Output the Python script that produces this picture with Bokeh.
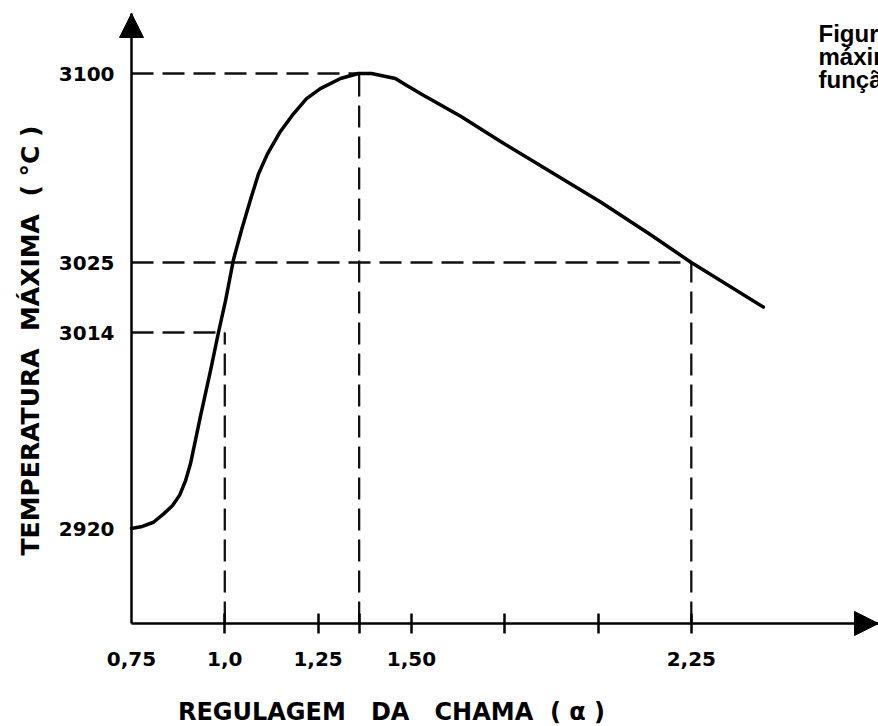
import numpy as np
from bokeh.plotting import figure
from bokeh.models import Range1d, FixedTicker, Arrow, NormalHead
from bokeh.embed import file_html
from bokeh.resources import INLINE
from bokeh.core.properties import value

# ---------------- data ----------------
alpha = [0.75, 0.779, 0.809, 0.836, 0.860, 0.879, 0.895, 0.908, 0.921, 0.935,
         0.962, 0.983, 1.002, 1.023, 1.045, 1.069, 1.090, 1.114, 1.149, 1.184,
         1.219, 1.256, 1.310, 1.358, 1.393, 1.425, 1.457, 1.490, 1.525, 1.632,
         1.739, 1.873, 2.007, 2.141, 2.25, 2.443]
temp = [2920, 2921, 2923, 2927, 2931, 2936, 2943, 2951, 2962, 2974,
        2996, 3014, 3019, 3026, 3038, 3050, 3060, 3068, 3077, 3084,
        3090, 3094, 3098, 3100, 3100, 3099, 3098, 3095, 3092, 3083,
        3073, 3061, 3049, 3036, 3025, 3018]

x_tick_values = [0.75, 1.0, 1.25, 1.5, 2.25]
x_tick_labels = ["0,75", "1,0", "1,25", "1,50", "2,25"]
x_tick_marks = [1.0, 1.25, 1.36, 1.5, 1.75, 2.0, 2.25]

y_tick_values = [2920, 3014, 3025, 3100]
y_tick_labels = ["2920", "3014", "3025", "3100"]

guide_alpha = [1.0, 1.36, 2.25]
guide_temp = [3014, 3100, 3025]

NB = "\u00a0"
x_title = f"REGULAGEM {NB}{NB}DA {NB}{NB}CHAMA {NB}( α )"
y_title = f"TEMPERATURA {NB}MÁXIMA {NB}( °C )"
caption = ["Figura 1 – Temperatura", "máxima da chama em", "função da regulagem"]

# ---------------- layout ----------------
W, H = 878, 726
X0_PX = 131          # canvas x of alpha = 0.75 (the vertical axis)
AXIS_Y_PX = 623      # canvas y of the horizontal axis
AXIS_TOP_PX = 13     # tip of the vertical arrow
PX_PER_ALPHA = 373.2
# the temperature axis of the drawing is schematic (non-uniform):
# screen distance (px) of each labelled temperature above the 2920 line
Y_SCREEN = [0, 196, 266, 455]
Y0 = 528             # canvas y of the 2920 line


def ty(t):
    return np.interp(t, y_tick_values, Y_SCREEN)


def ax(px):
    return 0.75 + (px - X0_PX) / PX_PER_ALPHA


def ay(py):
    return Y0 - py


p = figure(width=W, height=H, x_range=Range1d(ax(0), ax(W)),
           y_range=Range1d(ay(H), ay(0)), output_backend="svg",
           toolbar_location=None, min_border=0, min_border_left=0,
           min_border_right=0, min_border_top=0, min_border_bottom=0)
p.outline_line_color = None
p.grid.visible = False
p.background_fill_color = "white"
p.border_fill_color = "white"

tick_font = "DejaVu Sans"

# x axis (drawn through the frame at the origin)
xa = p.xaxis[0]
xa.fixed_location = ay(AXIS_Y_PX)
xa.bounds = (0.75, ax(W))
xa.ticker = FixedTicker(ticks=x_tick_values, minor_ticks=x_tick_marks)
xa.major_label_overrides = dict(zip(x_tick_values, x_tick_labels))
xa.major_tick_in = 0
xa.major_tick_out = 0
xa.minor_tick_in = 10
xa.minor_tick_out = 10
xa.minor_tick_line_width = 2.5
xa.minor_tick_line_color = "black"
xa.axis_line_width = 2.5
xa.axis_line_color = "black"
xa.major_label_standoff = 18
xa.major_label_text_font = tick_font
xa.major_label_text_font_style = "bold"
xa.major_label_text_font_size = "20px"
xa.major_label_text_color = "black"

# y axis
ya = p.yaxis[0]
ya.fixed_location = 0.75
ya.bounds = (ay(AXIS_Y_PX), ay(AXIS_TOP_PX))
ya.ticker = FixedTicker(ticks=[float(ty(t)) for t in y_tick_values])
ya.major_label_overrides = {float(ty(t)): s for t, s in zip(y_tick_values, y_tick_labels)}
ya.major_tick_in = 0
ya.major_tick_out = 0
ya.minor_tick_line_color = None
ya.axis_line_width = 2.5
ya.axis_line_color = "black"
ya.major_label_standoff = 17
ya.major_label_text_font = tick_font
ya.major_label_text_font_style = "bold"
ya.major_label_text_font_size = "20px"
ya.major_label_text_color = "black"

# axis titles
p.text(x=[ax(391)], y=[ay(711)], text=[x_title], text_font=value(tick_font),
       text_font_style="bold", text_font_size="24px", text_align="center",
       text_baseline="middle", text_color="black")
p.text(x=[ax(30)], y=[ay(340)], text=[y_title], angle=np.pi / 2,
       text_font=value(tick_font), text_font_style="bold", text_font_size="25px",
       text_align="center", text_baseline="middle", text_color="black")

# dashed guide lines
y_base = ay(AXIS_Y_PX)
dash_kw = dict(line_color="#111111", line_width=2.3, line_dash="22 9")
p.segment(x0=[0.75] * len(guide_alpha), y0=[float(ty(t)) for t in guide_temp],
          x1=guide_alpha, y1=[float(ty(t)) for t in guide_temp], **dash_kw)
p.segment(x0=guide_alpha, y0=[y_base] * len(guide_alpha),
          x1=guide_alpha, y1=[float(ty(t)) for t in guide_temp], **dash_kw)

# curve
p.line(alpha, ty(temp), line_color="black", line_width=3.5, line_join="round",
       line_cap="round")

# arrow heads of the axes
head_kw = dict(fill_color="black", line_color="black", line_width=1)
p.add_layout(Arrow(end=NormalHead(size=24, **head_kw), x_start=0.75,
                   y_start=ay(AXIS_TOP_PX) - 30, x_end=0.75, y_end=ay(AXIS_TOP_PX),
                   line_color=None))
p.add_layout(Arrow(end=NormalHead(size=24, **head_kw), x_start=ax(W) - 0.08,
                   y_start=y_base, x_end=ax(W), y_end=y_base, line_color=None))

# caption (cut by the page edge, as in the source)
cap_y = [ay(33), ay(56), ay(79)]
p.text(x=[ax(818)] * 3, y=cap_y, text=caption, text_font=value("Liberation Sans"),
       text_font_size="24px", text_font_style="bold", text_baseline="alphabetic",
       text_align="left", text_color="black")

open("out.html", "w").write(file_html(p, INLINE))
